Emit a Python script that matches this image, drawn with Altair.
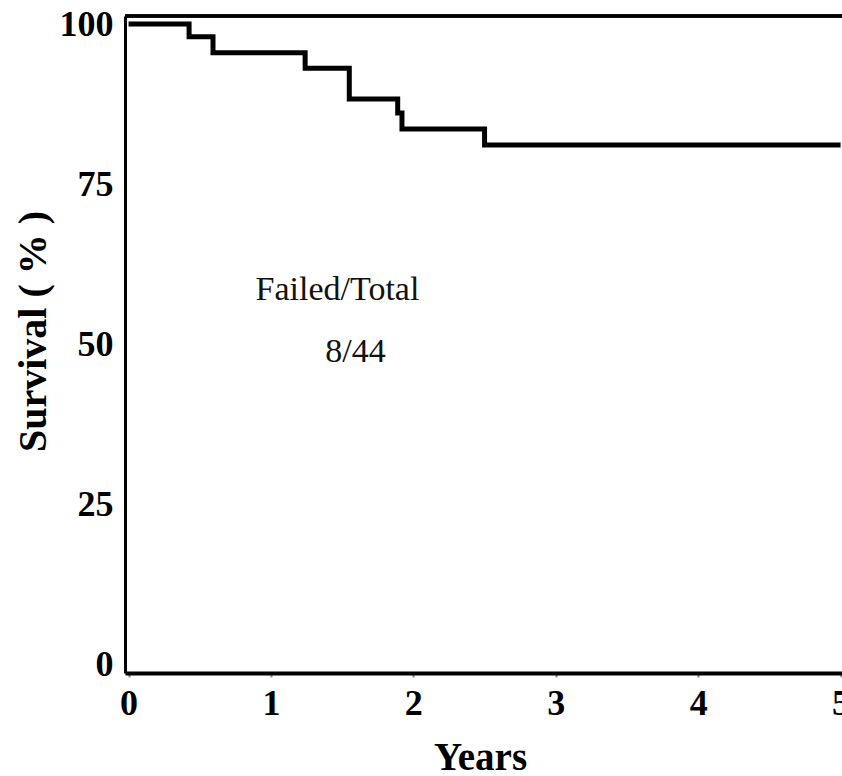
import altair as alt
import pandas as pd

# Kaplan-Meier survival curve
years = [0.0, 0.425, 0.593, 1.24, 1.55, 1.89, 1.92, 2.50, 5.0]
survival = [100.0, 98.0, 95.5, 93.1, 88.3, 86.1, 83.6, 81.1, 81.1]

x_ticks = [0, 1, 2, 3, 4, 5]
y_ticks = [0, 25, 50, 75, 100]

annot_text = ["Failed/Total", "8/44"]
annot_x = [1.467, 1.593]
annot_y = [56.9, 47.2]

W, H = 717, 657
SERIF = "Liberation Serif"

curve = pd.DataFrame({"Years": years, "Survival": survival})
notes = pd.DataFrame({"x": annot_x, "y": annot_y, "t": annot_text})

xscale = alt.Scale(domain=[-0.025, 5.01], nice=False, zero=False)
yscale = alt.Scale(domain=[-1.4, 101.25], nice=False, zero=False)

xaxis = alt.Axis(
    values=x_ticks, format="d", title="Years", grid=False,
    domainColor="black", domainWidth=4,
    ticks=True, tickSize=4, tickColor="#888888", tickWidth=2,
    labelFont=SERIF, labelFontSize=36, labelFontWeight="bold", labelColor="black",
    labelPadding=9, labelFlush=False,
    titleFont=SERIF, titleFontSize=39, titleFontWeight="bold", titleColor="black",
    titleX=355, titleY=96, titleBaseline="alphabetic", titleAlign="center",
)
yaxis = alt.Axis(
    values=y_ticks, format="d", title="Survival ( % )", grid=False,
    domainColor="black", domainWidth=3,
    ticks=False, tickSize=0,
    labelFont=SERIF, labelFontSize=36, labelFontWeight="bold", labelColor="black",
    labelPadding=12, labelBaseline="middle",
    titleFont=SERIF, titleFontSize=40, titleFontWeight="bold", titleColor="black",
    titleAngle=270, titleX=-80, titleY=315, titleBaseline="alphabetic", titleAlign="center",
)

line = alt.Chart(curve).mark_line(
    interpolate="step-after", color="black", strokeWidth=5, clip=True
).encode(
    x=alt.X("Years:Q", scale=xscale, axis=xaxis),
    y=alt.Y("Survival:Q", scale=yscale, axis=yaxis),
)

top_border = alt.Chart(curve).mark_rule(color="black", strokeWidth=2.5).encode(
    x=alt.value(0), x2=alt.value(W), y=alt.value(0)
)

text = alt.Chart(notes).mark_text(
    font=SERIF, fontSize=34, color="#111111", align="center", baseline="alphabetic"
).encode(
    x=alt.X("x:Q", scale=xscale),
    y=alt.Y("y:Q", scale=yscale),
    text="t:N",
)

chart = alt.layer(line, top_border, text).properties(
    width=W, height=H,
    autosize=alt.AutoSizeParams(type="none"),
    padding={"left": 125, "top": 16, "right": 0, "bottom": 103},
    background="white",
).configure_view(stroke=None)

chart.save("out.html", embed_options={"renderer": "svg", "actions": False})
